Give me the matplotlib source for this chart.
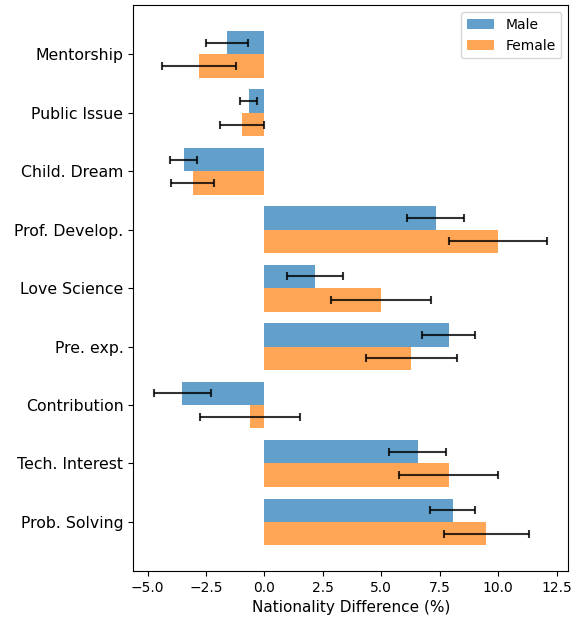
import matplotlib
matplotlib.use("Agg")
import matplotlib.pyplot as plt
import numpy as np

categories = ["Mentorship", "Public Issue", "Child. Dream", "Prof. Develop.",
              "Love Science", "Pre. exp.", "Contribution", "Tech. Interest", "Prob. Solving"]
male = [-1.62, -0.68, -3.45, 7.32, 2.17, 7.88, -3.52, 6.55, 8.05]
male_err = [0.9, 0.37, 0.58, 1.2, 1.2, 1.13, 1.22, 1.22, 0.97]
female = [-2.8, -0.97, -3.08, 9.99, 4.98, 6.28, -0.63, 7.88, 9.5]
female_err = [1.6, 0.95, 0.92, 2.1, 2.14, 1.95, 2.15, 2.11, 1.82]

fig = plt.figure(figsize=(5.74, 6.17), dpi=100)
ax = fig.add_axes([0.232, 0.0746, 0.758, 0.9168])

n = len(categories)
y = np.arange(n)[::-1]
h = 0.4
ek = dict(ecolor='black', alpha=0.8, capsize=3, elinewidth=1.5, capthick=1.5)
ax.barh(y + h / 2, male, height=h, xerr=male_err, color='tab:blue', alpha=0.7,
        label='Male', error_kw=ek)
ax.barh(y - h / 2, female, height=h, xerr=female_err, color='tab:orange', alpha=0.7,
        label='Female', error_kw=ek)

ax.set_yticks(y)
ax.set_yticklabels(categories, fontsize=11.3)
ax.set_xticks([-5.0, -2.5, 0.0, 2.5, 5.0, 7.5, 10.0, 12.5])
ax.set_xlim(-5.62, 13.0)
ax.tick_params(axis='x', labelsize=10)
ax.set_xlabel("Nationality Difference (%)", fontsize=11)
ax.legend(loc='upper right', fontsize=10)

fig.savefig("out.png", dpi=100)
